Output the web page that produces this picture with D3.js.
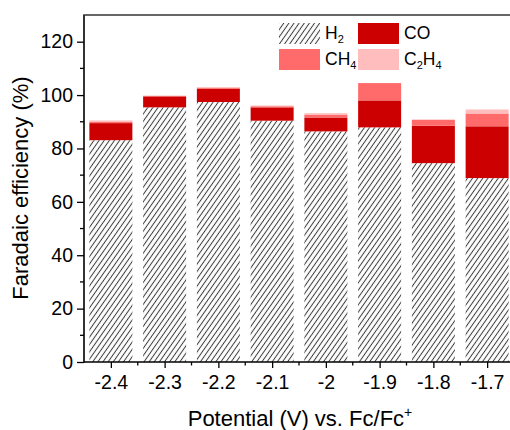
<!DOCTYPE html>
<html><head><meta charset="utf-8">
<script src="https://cdn.jsdelivr.net/npm/d3@7"></script>
<style>
html,body{margin:0;padding:0;background:#fff;}
svg{display:block;font-family:"Liberation Sans",Arial,sans-serif;}
</style></head>
<body><svg id="c" width="510" height="430"></svg>
<script>
const categories = [-2.4, -2.3, -2.2, -2.1, -2.0, -1.9, -1.8, -1.7];
const tickLabels = ["-2.4","-2.3","-2.2","-2.1","-2","-1.9","-1.8","-1.7"];
const h2   = [83.1, 95.4, 97.4, 90.4, 86.4, 87.9, 74.5, 68.9];
const co   = [6.4, 4.1, 5.0, 5.0, 5.2, 10.1, 14.0, 19.4];
const ch4  = [0.4, 0.2, 0.3, 0.4, 1.1, 6.5, 2.2, 4.8];
const c2h4 = [0.6, 0.1, 0.3, 0.3, 0.5, 0.0, 0.2, 1.5];
const yTicks = [0, 20, 40, 60, 80, 100, 120];

const svg = d3.select("#c");
const L = 84, R = 514, T = 15, B = 362;
const x = d3.scaleLinear().domain([-2.45, -1.65]).range([L, R]);
const y = d3.scaleLinear().domain([0, 130]).range([B, T]);
const barW = 43;

const defs = svg.append("defs");
const pat = defs.append("pattern").attr("id","hatch").attr("patternUnits","userSpaceOnUse")
  .attr("width",4.2).attr("height",10).attr("patternTransform","rotate(35)");
pat.append("rect").attr("width",4.2).attr("height",10).attr("fill","#fff");
pat.append("line").attr("x1",2.1).attr("x2",2.1).attr("y1",0).attr("y2",10)
  .attr("stroke","#3a3a3a").attr("stroke-width",1.0);

const series = [
  {name:"H2", vals:h2, fill:"url(#hatch)"},
  {name:"CO", vals:co, fill:"#cc0000"},
  {name:"CH4", vals:ch4, fill:"#ff6b6b"},
  {name:"C2H4", vals:c2h4, fill:"#ffbdbd"}
];
const rows = categories.map((c,i)=>({c, H2:h2[i], CO:co[i], CH4:ch4[i], C2H4:c2h4[i]}));
const stack = d3.stack().keys(series.map(s=>s.name))(rows);

const clip = defs.append("clipPath").attr("id","clip");
clip.append("rect").attr("x",L).attr("y",0).attr("width",R-L).attr("height",B);

const gBars = svg.append("g").attr("clip-path","url(#clip)");
stack.forEach((layer,k)=>{
  gBars.append("g").selectAll("rect").data(layer).join("rect")
    .attr("x",d=>x(d.data.c)-barW/2)
    .attr("width",barW)
    .attr("y",d=>y(d[1]))
    .attr("height",d=>Math.max(0,y(d[0])-y(d[1])))
    .attr("fill",series[k].fill);
});

// axes
const fontTick = "19.5px";
const yAxis = d3.axisLeft(y).tickValues(yTicks).tickSize(7).tickPadding(4);
const gy = svg.append("g").attr("transform",`translate(${L},0)`).call(yAxis);
gy.select(".domain").remove();
gy.selectAll(".tick line").attr("stroke","#000").attr("stroke-width",1.3);
gy.selectAll(".tick text").attr("font-size",fontTick).attr("fill","#000")
  .attr("font-family","Liberation Sans, Arial, sans-serif");
const yMinor = d3.range(10, 130, 20);
svg.append("g").selectAll("line").data(yMinor).join("line")
  .attr("x1",L-4).attr("x2",L).attr("y1",d=>y(d)).attr("y2",d=>y(d))
  .attr("stroke","#000").attr("stroke-width",1.3);

const xAxis = d3.axisBottom(x).tickValues(categories).tickSize(6).tickPadding(7)
  .tickFormat((d,i)=>tickLabels[i]);
const gx = svg.append("g").attr("transform",`translate(0,${B})`).call(xAxis);
gx.select(".domain").remove();
gx.selectAll(".tick line").attr("stroke","#000").attr("stroke-width",1.3);
gx.selectAll(".tick text").attr("font-size",fontTick).attr("fill","#000")
  .attr("font-family","Liberation Sans, Arial, sans-serif");
const xMinor = categories.map(c=>c+0.05);
svg.append("g").selectAll("line").data(xMinor).join("line")
  .attr("x1",d=>x(d)).attr("x2",d=>x(d)).attr("y1",B).attr("y2",B+3.5)
  .attr("stroke","#000").attr("stroke-width",1.3);

// frame lines
svg.append("line").attr("x1",L).attr("x2",R).attr("y1",B).attr("y2",B).attr("stroke","#000").attr("stroke-width",1.6);
svg.append("line").attr("x1",L).attr("x2",L).attr("y1",T).attr("y2",B+0.8).attr("stroke","#000").attr("stroke-width",1.6);
svg.append("line").attr("x1",L-0.8).attr("x2",R).attr("y1",T).attr("y2",T).attr("stroke","#333").attr("stroke-width",1.6);

// titles
const xt = svg.append("text").attr("x",300).attr("y",426).attr("text-anchor","middle")
  .attr("font-size","22px").attr("fill","#000");
xt.append("tspan").text("Potential (V) vs. Fc/Fc");
xt.append("tspan").attr("font-size","14px").attr("dy","-9").text("+");

svg.append("text").attr("transform","translate(28,188) rotate(-90)")
  .attr("text-anchor","middle").attr("font-size","22px").attr("fill","#000")
  .text("Faradaic efficiency (%)");

// legend
const legendItems = [
  {fill:"url(#hatch)", main:"H", sub:"2", tail:"", x:279, y:23},
  {fill:"#cc0000", main:"CO", sub:"", tail:"", x:358, y:23},
  {fill:"#ff6b6b", main:"CH", sub:"4", tail:"", x:279, y:49},
  {fill:"#ffbdbd", main:"C", sub:"2", tail:"H", sub2:"4", x:358, y:49}
];
const lg = svg.append("g");
legendItems.forEach(it=>{
  lg.append("rect").attr("x",it.x).attr("y",it.y).attr("width",41).attr("height",21).attr("fill",it.fill);
  const t = lg.append("text").attr("x",it.x+46).attr("y",it.y+16).attr("font-size","17.5px").attr("fill","#000");
  t.append("tspan").text(it.main);
  if(it.sub){ t.append("tspan").attr("font-size","11px").attr("dy","4").text(it.sub); }
  if(it.tail){ t.append("tspan").attr("dy","-4").text(it.tail); }
  if(it.sub2){ t.append("tspan").attr("font-size","11px").attr("dy","4").text(it.sub2); }
});
</script></body></html>
